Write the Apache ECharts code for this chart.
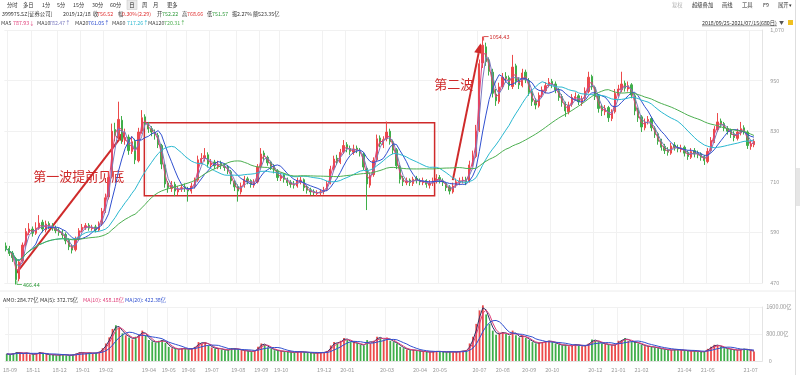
<!DOCTYPE html>
<html><head><meta charset="utf-8">
<script src="https://cdn.jsdelivr.net/npm/echarts@6/dist/echarts.min.js"></script>
<style>html,body{margin:0;padding:0;background:#fff}#c{width:800px;height:375px}</style>
</head><body><div id="c"></div>
<script>
// ---- data (3-trading-day bars, 2018/09/25 - 2021/07/15) ----
const opens = [558,552,541,528,480,522,562,590,598,588,
600,614,596,611,605,600,595,591,585,571,
557,549,576,595,601,607,599,603,596,611,
641,674,722,834,818,856,808,816,782,806,
760,830,864,846,836,826,820,796,750,707,
694,704,686,694,698,692,688,701,714,760,
766,774,750,757,746,754,747,745,734,710,
699,686,702,717,713,702,710,747,778,768,
757,747,736,718,726,714,709,705,700,713,
715,697,691,687,682,684,687,692,707,742,
766,756,782,798,789,780,790,784,776,742,
702,727,762,814,798,812,830,803,786,746,
718,708,714,706,718,712,708,713,702,707,
711,720,712,706,698,686,702,709,713,716,
712,752,770,832,992,1030,998,970,918,900,
936,960,957,936,985,950,938,970,950,924,
902,890,917,926,940,948,942,926,912,896,
876,894,908,914,898,908,924,960,933,914,
886,876,886,860,876,918,928,944,930,940,
914,880,864,838,854,860,836,824,808,794,
786,778,797,790,786,792,780,768,784,778,
776,770,758,784,806,833,854,848,836,832,
824,813,826,838,828,794,798];
const closes = [552,540,530,478,520,560,592,598,588,600,
612,598,610,604,600,594,590,584,570,556,
548,575,594,602,606,600,602,596,610,640,
672,720,830,820,858,810,815,784,805,762,
828,862,848,835,828,822,798,752,705,696,
702,688,692,696,694,688,700,712,762,765,
772,752,755,748,752,748,744,736,712,698,
688,700,716,712,704,708,745,776,770,755,
746,738,720,724,716,708,704,702,712,714,
696,690,686,684,683,686,690,705,740,764,
758,780,796,788,782,788,786,778,745,705,
725,760,812,800,810,828,805,785,748,716,
710,712,708,716,714,710,712,704,706,712,
718,714,708,696,688,700,710,712,714,710,
750,768,830,990,1034,995,972,920,902,935,
958,955,938,982,948,940,968,952,922,900,
892,915,928,938,946,940,928,910,898,878,
892,910,912,900,906,925,958,935,912,884,
878,884,862,874,920,930,942,932,938,916,
878,862,840,852,858,838,822,806,792,784,
780,795,792,788,790,778,770,782,776,774,
768,760,782,808,835,852,846,838,830,822,
815,828,836,830,796,800,806];
const lows = [545,534,520,466.44,474,518,556,584,580,584,
596,590,590,598,594,588,582,576,562,548,
540,545,570,590,596,594,594,590,592,606,
636,668,718,806,812,800,798,774,776,752,
756,824,838,826,818,810,790,740,696,684,
686,676,678,686,686,663,682,694,710,752,
758,744,744,740,740,740,736,728,704,688,
663,680,696,704,696,696,706,742,760,748,
738,730,712,712,708,700,696,694,696,704,
688,682,678,678,676,678,680,688,704,736,
750,752,776,780,774,774,778,770,738,643,
696,722,758,792,790,806,798,776,740,706,
700,702,700,700,706,702,702,696,694,700,
706,706,700,688,680,682,696,702,706,702,
708,746,766,828,980,985,962,910,890,895,
930,945,928,930,940,930,934,944,914,890,
882,886,910,920,934,932,920,902,888,864,
870,888,902,892,890,902,920,928,904,874,
866,868,852,854,872,912,922,924,924,908,
868,852,828,832,846,830,814,798,784,776,
772,774,784,780,780,770,762,764,768,766,
760,750,754,780,802,828,838,830,822,814,
806,808,820,822,788,786,792];
const highs = [566,558,546,532,526,566,600,612,604,614,
631,620,618,616,612,606,600,596,590,576,
562,580,600,610,612,612,608,608,616,648,
682,735,848,850,900,866,836,822,818,812,
838,880,870,852,842,834,826,800,754,712,
712,710,700,704,706,698,708,720,772,778,
790,780,764,762,760,760,754,750,738,714,
704,708,724,722,716,716,752,790,784,772,
760,752,740,732,730,720,714,712,720,722,
718,702,696,692,690,692,698,712,748,772,
774,788,809,804,796,798,796,790,780,746,
732,768,822,820,818,853,836,810,790,750,
724,720,718,722,724,718,720,716,714,720,
728,726,718,710,702,708,718,720,722,722,
760,784,845,1000,1054.43,1040,1005,978,930,945,
968,970,962,1011,990,958,978,976,956,930,
908,922,936,946,956,954,948,932,918,900,
900,918,922,918,914,934,971,964,938,918,
894,892,890,882,930,940,971,950,948,944,
918,886,868,860,866,864,842,828,812,800,
792,802,804,798,798,796,784,790,790,784,
780,774,790,816,842,873,860,852,842,836,
830,836,852,844,832,808,812];
const amounts = [210,190,230,260,240,220,250,200,190,230,260,210,200,180,190,170,180,200,170,160,190,
220,260,240,230,250,220,240,280,
380,520,700,950,1060,980,820,760,700,640,720,780,900,760,620,580,540,600,
620,540,420,380,360,340,380,360,340,380,420,
560,520,560,460,400,360,380,340,320,330,
380,360,340,320,300,290,280,300,
420,520,480,400,360,320,300,290,280,270,260,250,280,270,
260,250,240,230,240,250,260,300,
460,560,520,600,680,620,560,540,520,480,460,
620,520,600,720,680,620,700,600,560,520,
420,380,340,320,330,300,290,280,270,260,280,290,280,270,260,280,260,270,290,300,310,
520,720,1100,1500,1650,1380,1100,900,780,820,860,800,740,900,760,700,760,680,620,560,520,
540,560,580,600,560,520,480,460,480,440,460,500,460,440,460,520,640,600,560,520,500,480,460,480,600,620,680,600,560,
560,520,480,440,430,420,400,380,360,340,330,320,340,330,320,310,300,290,300,280,270,280,360,420,480,460,420,380,360,340,330,320,340,360,330,300,285];
const monthTicks = [[1,'18-09'],[8,'18-11'],[16,'18-12'],[23,'19-01'],[30,'19-02'],[43,'19-04'],[49,'19-05'],[55,'19-06'],[62,'19-07'],[70,'19-08'],[77,'19-09'],[83,'19-10'],[96,'19-12'],[103,'20-01'],[115,'20-03'],[125,'20-04'],[131,'20-05'],[143,'20-07'],[150,'20-08'],[158,'20-09'],[165,'20-10'],[178,'20-12'],[185,'21-01'],[192,'21-02'],[205,'21-04'],[212,'21-05'],[225,'21-07']];
const priceTicks = {min:470, max:1070, step:120};
const volTicks = {min:0, max:1600, step:800};
// annotations in data coordinates [barIndex, price]
const boxRange = {x0:41.8, x1:129.5, top:850, bottom:677};
const wave1 = [[3.2,494],[36,829]];
const wave2 = [[135,714],[143.4,1038.5]];
const notes = [['第一波提前见底',8.2,724],['第二波',129.4,941.5]];
const maxPt = [144,1054.43], minPt = [3,466.44];

const FONT = '"Noto Sans CJK SC","Noto Sans",sans-serif';
const UP='#ec4a4a', DOWN='#3fae49';
const C_MA5='#e0407a', C_MA10='#7b7bc0', C_MA20='#3050d0', C_MA60='#2ab8d0', C_MA120='#4caf50';
const N = closes.length, NCAT = N + 2;
const cats = new Array(NCAT).fill('');
monthTicks.forEach(([i,l])=>{cats[i]=l;});
const tickSet = new Set(monthTicks.map(t=>t[0]));
const kData = closes.map((c,i)=>[opens[i],c,lows[i],highs[i]]);
function ma(arr,n){return arr.map((_,i)=>{const s=Math.max(0,i-n+1);let t=0;for(let k=s;k<=i;k++)t+=arr[k];return +(t/(i-s+1)).toFixed(2);});}

const chart = echarts.init(document.getElementById('c'));
const lineS = (name,data,color,xi,yi)=>({name,type:'line',data,xAxisIndex:xi,yAxisIndex:yi,symbol:'none',smooth:false,lineStyle:{width:1,color},silent:true});
const splitX = {show:true, interval:(i)=>tickSet.has(i), lineStyle:{color:'#f1f1f1',width:1}};
const AXF = 5.5;
chart.setOption({
  animation:false, backgroundColor:'#fff', textStyle:{fontFamily:FONT},
  grid:[{left:4.35,width:757.9,top:30,height:253},{left:4.35,width:757.9,top:307,height:54}],
  xAxis:[
    {type:'category',gridIndex:0,data:cats,axisLine:{show:false},axisTick:{show:false},axisLabel:{show:false},splitLine:splitX},
    {type:'category',gridIndex:1,data:cats,axisLine:{show:true,lineStyle:{color:'#e4e4e4'}},axisTick:{show:false},axisLabel:{interval:0,color:'#999',fontSize:AXF,margin:6,fontFamily:FONT},splitLine:splitX}
  ],
  yAxis:[
    {type:'value',gridIndex:0,position:'right',min:priceTicks.min,max:priceTicks.max,interval:priceTicks.step,axisLine:{show:true,lineStyle:{color:'#e4e4e4'}},axisTick:{show:false},axisLabel:{color:'#999',fontSize:AXF,margin:8,fontFamily:FONT},splitLine:{lineStyle:{color:'#f1f1f1'}}},
    {type:'value',gridIndex:1,position:'right',min:volTicks.min,max:volTicks.max,interval:volTicks.step,axisLine:{show:true,lineStyle:{color:'#e4e4e4'}},axisTick:{show:false},axisLabel:{color:'#999',fontSize:AXF,margin:4,fontFamily:FONT,formatter:v=>v===0?'  0':v.toFixed(2)+'亿'},splitLine:{lineStyle:{color:'#f1f1f1'}}}
  ],
  series:[
    {type:'candlestick',data:kData,xAxisIndex:0,yAxisIndex:0,barWidth:1.8,clip:false,itemStyle:{color:UP,color0:DOWN,borderColor:UP,borderColor0:DOWN,borderWidth:1}},
    lineS('MA5',ma(closes,2),C_MA5,0,0),
    lineS('MA10',ma(closes,3),C_MA10,0,0),
    lineS('MA20',ma(closes,7),C_MA20,0,0),
    lineS('MA60',ma(closes,20),C_MA60,0,0),
    lineS('MA120',ma(closes,40),C_MA120,0,0),
    {type:'bar',data:amounts.map((v,i)=>({value:v,itemStyle:{color:closes[i]>=opens[i]?UP:DOWN}})),xAxisIndex:1,yAxisIndex:1,barWidth:1.8,clip:false},
    lineS('VMA5',ma(amounts,2),'#333366',1,1),
    lineS('VMA10',ma(amounts,3),'#e0407a',1,1),
    lineS('VMA20',ma(amounts,7),'#3050d0',1,1)
  ]
});

function P(idx,price){const i0=Math.floor(idx),f=idx-i0;const a=chart.convertToPixel({gridIndex:0},[i0,price]);const b=chart.convertToPixel({gridIndex:0},[i0+1,price]);return [a[0]+(b[0]-a[0])*f,a[1]];}
const RED='#cf2a2a';
const g=[];
const txt=(x,y,t,fill,size,extra)=>g.push(Object.assign({type:'text',silent:true,style:{text:t,x,y,fill,font:(size||5.3)+'px '+FONT,align:'left',verticalAlign:'middle'}},extra||{}));
function arrow(a,b){
  const [x1,y1]=P(a[0],a[1]),[x2,y2]=P(b[0],b[1]);
  const ang=Math.atan2(y2-y1,x2-x1),L=10,W=4.5;
  const bx=x2-L*Math.cos(ang),by=y2-L*Math.sin(ang);
  g.push({type:'line',silent:true,shape:{x1,y1,x2:bx,y2:by},style:{stroke:RED,lineWidth:2}});
  g.push({type:'polygon',silent:true,shape:{points:[[x2,y2],[bx+W*Math.sin(ang),by-W*Math.cos(ang)],[bx-W*Math.sin(ang),by+W*Math.cos(ang)]]},style:{fill:RED}});
}
const b0=P(boxRange.x0,boxRange.top),b1=P(boxRange.x1,boxRange.bottom);
g.push({type:'rect',silent:true,shape:{x:b0[0],y:b0[1],width:b1[0]-b0[0],height:b1[1]-b0[1]},style:{fill:'none',stroke:RED,lineWidth:1.5}});
arrow(wave1[0],wave1[1]); arrow(wave2[0],wave2[1]);
notes.forEach(([t,i,p])=>{const q=P(i,p);txt(q[0],q[1],t,RED,13);});
const mx=P(maxPt[0],maxPt[1]);
g.push({type:'polyline',silent:true,shape:{points:[[mx[0]+1,mx[1]+4],[mx[0]+1,mx[1]],[mx[0]+6,mx[1]]]},style:{stroke:RED,lineWidth:0.8,fill:'none'}});
txt(mx[0]+7,mx[1],maxPt[1].toFixed(2),RED,5.5);
const mn=P(minPt[0],minPt[1]);
g.push({type:'polyline',silent:true,shape:{points:[[mn[0]+1,mn[1]-4],[mn[0]+1,mn[1]],[mn[0]+6,mn[1]]]},style:{stroke:DOWN,lineWidth:0.8,fill:'none'}});
txt(mn[0]+7,mn[1],minPt[1].toFixed(2),'#2e9a3a',5.5);
// header toolbar
[[7,'分时'],[23,'多日'],[42,'1分'],[57,'5分'],[73,'15分'],[92,'30分'],[110,'60分'],[142,'周'],[153,'月'],[167,'更多']].forEach(([x,t])=>txt(x,4.5,t,'#333',5.3));
g.push({type:'rect',silent:true,shape:{x:127,y:0,width:10,height:9.5},style:{fill:'#e9e9e9',stroke:'#cfcfcf',lineWidth:0.6}});
txt(129.3,4.5,'日','#222',5.3);
txt(672,4.5,'复权','#b0b0b0',5.3);
[[692,'超级叠加'],[722,'画线'],[742,'工具'],[763,'F9'],[778,'展开▾']].forEach(([x,t])=>txt(x,4.5,t,'#333',5.3));
const R='#e03030',G='#2e9a3a',K='#333';
[[2,'399975.SZ[证券公司]',K],[63,'2019/12/18',K],[93,'收',K],[97,'756.52',R],[118,'幅',K],[122,'0.30%(2.29)',R],[157,'开',K],[162,'752.22',G],[182,'高',K],[187,'768.66',R],[207,'低',K],[212,'751.57',G],[232,'振',K],[237,'2.27%',K],[253,'额',K],[258,'523.35亿',K]].forEach(([x,t,c])=>txt(x,13.5,t,c,5.3));
[[1,'MA5','#444'],[13,'787.93↓',C_MA5],[37,'MA10','#444'],[49,'782.47↑',C_MA10],[75,'MA20','#444'],[88,'761.05↑',C_MA20],[112,'MA60','#444'],[127,'717.26↑',C_MA60],[148,'MA120','#444'],[164,'720.31↑',C_MA120]].forEach(([x,t,c])=>txt(x,22.5,t,c,5.3));
txt(702,22.5,'2018/09/25-2021/07/15(680日)','#333',5.3);
g.push({type:'line',silent:true,shape:{x1:702,y1:25.8,x2:777,y2:25.8},style:{stroke:'#333',lineWidth:0.5}});
txt(779,22,'▼','#555',5);
g.push({type:'rect',silent:true,shape:{x:788,y:20,width:5,height:5},style:{fill:'#f0c020'}});
[[3,'AMO: 284.77亿','#333'],[40,'MA(5): 372.75亿','#333'],[83,'MA(10): 458.18亿','#e0407a'],[125,'MA(20): 422.38亿','#3050d0']].forEach(([x,t,c])=>txt(x,299.5,t,c,5.3));
g.push({type:'line',silent:true,shape:{x1:0,y1:291,x2:795,y2:291},style:{stroke:'#ececec',lineWidth:1}});
g.push({type:'line',silent:true,shape:{x1:795.5,y1:0,x2:795.5,y2:375},style:{stroke:'#dedede',lineWidth:1}});
g.push({type:'rect',silent:true,shape:{x:796,y:168,width:4,height:38},style:{fill:'#e6e6e6'}});
chart.setOption({graphic:g});
</script></body></html>
